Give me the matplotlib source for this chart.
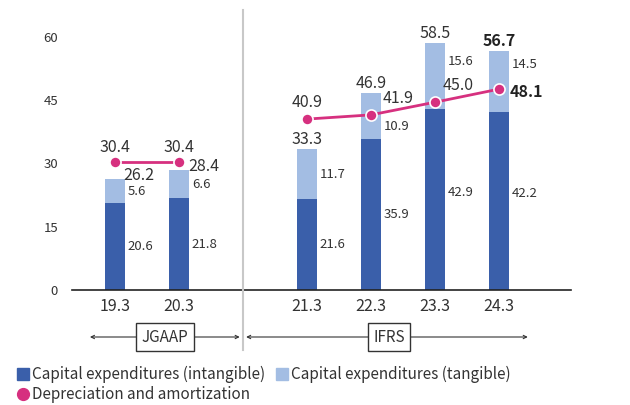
import matplotlib
matplotlib.use("Agg")
from matplotlib import pyplot as plt
from matplotlib.lines import Line2D
import matplotlib.transforms as mtransforms

plt.rcParams['font.family'] = ['Noto Sans CJK JP', 'DejaVu Sans']

# data
years = ["19.3", "20.3", "21.3", "22.3", "23.3", "24.3"]
xpos = [0, 1, 3, 4, 5, 6]
intangible = [20.6, 21.8, 21.6, 35.9, 42.9, 42.2]
tangible = [5.6, 6.6, 11.7, 10.9, 15.6, 14.5]
totals = [26.2, 28.4, 33.3, 46.9, 58.5, 56.7]
depreciation = [30.4, 30.4, 40.9, 41.9, 45.0, 48.1]
# depreciation values as plotted in the chart
dep_plot = [30.3, 30.3, 40.5, 41.5, 44.5, 47.6]

DARK = "#3A5FAA"
LIGHT = "#A3BDE3"
PINK = "#D6307F"
TXT = "#333333"

fig = plt.figure(figsize=(6.3, 4.05), dpi=100)
ax = fig.add_axes([72 / 630, 115 / 405, (571 - 72) / 630, 65 * 4.22 / 405])

w = 0.31
ax.bar(xpos, intangible, width=w, color=DARK, zorder=2)
ax.bar(xpos, tangible, width=w, bottom=intangible, color=LIGHT, zorder=2)

ax.plot(xpos[:2], dep_plot[:2], color=PINK, lw=2, marker="o", ms=8,
        mfc=PINK, mec="white", mew=1.2, zorder=4)
ax.plot(xpos[2:], dep_plot[2:], color=PINK, lw=2, marker="o", ms=8,
        mfc=PINK, mec="white", mew=1.2, zorder=4)

ax.set_xlim(-0.67, 7.125)
ax.set_ylim(0, 65)
ax.set_yticks([0, 15, 30, 45, 60])
ax.set_xticks(xpos)
ax.set_xticklabels(years, fontsize=11.5, color=TXT)
ax.tick_params(axis="y", length=0, pad=10, labelsize=9.5, labelcolor=TXT)
ax.tick_params(axis="x", length=0, pad=6)
for s in ["top", "right", "left"]:
    ax.spines[s].set_visible(False)
ax.spines["bottom"].set_color("#222222")
ax.spines["bottom"].set_linewidth(1.2)

k = 0.72  # px -> pt
# totals
tot_off = [(24, 4), (25, 4), (0, 10), (0, 9), (0, 10), (0, 10)]
for i, (x, v) in enumerate(zip(xpos, totals)):
    bold = i == 5
    dx, dy = tot_off[i]
    ax.annotate(f"{v:.1f}", (x, v), xytext=(dx * k, dy * k), textcoords="offset points",
                ha="center", va="center", fontsize=11.5,
                fontweight="bold" if bold else "normal", color="#222222" if bold else TXT)

# segment labels
int_off = [0, 0, 0, 0, 7, 7]
tan_off = [0, 0, 0, -11, 15, 17]
for i, x in enumerate(xpos):
    ax.annotate(f"{intangible[i]:.1f}", (x, intangible[i] / 2), xytext=(13 * k, int_off[i] * k),
                textcoords="offset points", ha="left", va="center", fontsize=9.5, color=TXT)
    ax.annotate(f"{tangible[i]:.1f}", (x, intangible[i] + tangible[i] / 2),
                xytext=(13 * k, tan_off[i] * k),
                textcoords="offset points", ha="left", va="center", fontsize=9.5, color=TXT)

# depreciation labels
dep_off = [(0, 15), (0, 15), (0, 17), (27, 16), (23, 17), (27, -3)]
for i, x in enumerate(xpos):
    bold = i == 5
    dx, dy = dep_off[i]
    ax.annotate(f"{depreciation[i]:.1f}", (x, dep_plot[i]), xytext=(dx * k, dy * k),
                textcoords="offset points", ha="center", va="center",
                fontsize=11.5, fontweight="bold" if bold else "normal",
                color="#222222" if bold else TXT)

# separator and accounting standard markers
tr = mtransforms.blended_transform_factory(ax.transData, fig.transFigure)
fig.add_artist(Line2D([2, 2], [1 - 10 / 405, 1 - 350 / 405], transform=tr,
                      color="#C8C8C8", lw=1.5))
yb = 1 - 337 / 405
for x0, x1, xc, label in [(-0.39, 1.95, 0.78, "JGAAP"), (2.05, 6.45, 4.28, "IFRS")]:
    ax.annotate("", xy=(x0, yb), xytext=(x1, yb), xycoords=tr, textcoords=tr,
                arrowprops=dict(arrowstyle="<->", lw=0.8, color="#333333",
                                mutation_scale=6, shrinkA=0, shrinkB=0))
    ax.text(xc, yb, label, transform=tr, ha="center", va="center", fontsize=11,
            color=TXT, zorder=5,
            bbox=dict(boxstyle="square,pad=0.35", fc="white", ec="#333333", lw=1))

handles = [
    Line2D([], [], ls="none", marker="s", ms=8.5, mfc=DARK, mec=DARK,
           label="Capital expenditures (intangible)"),
    Line2D([], [], ls="none", marker="o", ms=8.5, mfc=PINK, mec=PINK,
           label="Depreciation and amortization"),
    Line2D([], [], ls="none", marker="s", ms=8.5, mfc=LIGHT, mec=LIGHT,
           label="Capital expenditures (tangible)"),
]
fig.legend(handles=handles, ncol=2, loc="upper left", bbox_to_anchor=(18 / 630, 1 - 366 / 405),
           frameon=False, fontsize=11, handlelength=0.7, handletextpad=0.2,
           columnspacing=0.8, labelspacing=0.2, borderaxespad=0, borderpad=0,
           labelcolor=TXT)

fig.savefig("out.png", dpi=100)
